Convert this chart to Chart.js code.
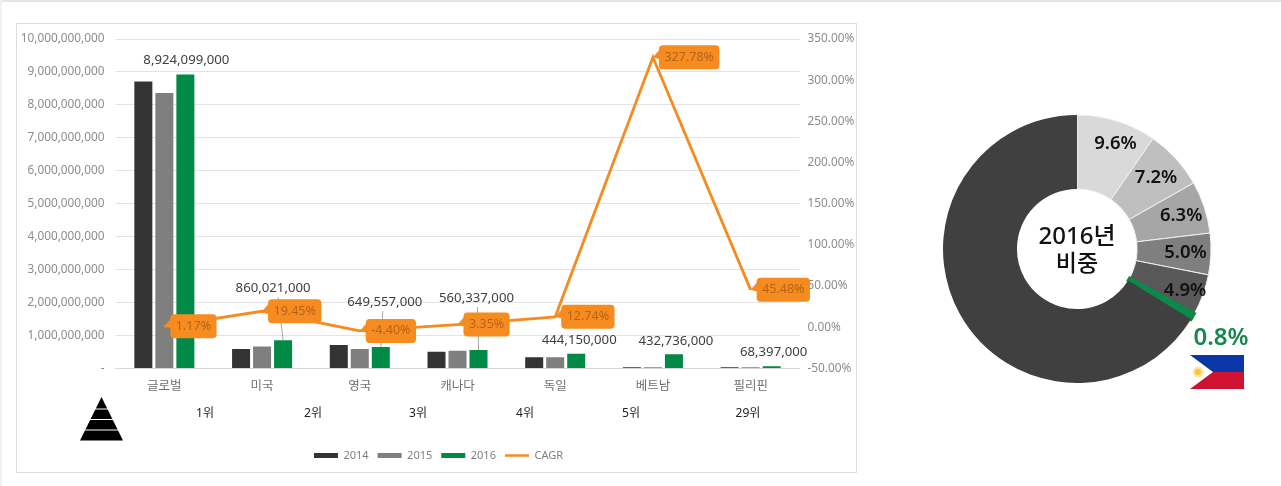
<!DOCTYPE html>
<html lang="ko">
<head>
<meta charset="utf-8">
<title>2016 CAGR</title>
<script src="https://cdn.jsdelivr.net/npm/chart.js@4"></script>
<style>
  html, body { margin: 0; padding: 0; background: #fff; }
  body { width: 1281px; height: 486px; position: relative; overflow: hidden; font-family: "Noto Sans", "Noto Sans CJK KR", sans-serif; }
  #topLine { position: absolute; left: 0; top: 0; width: 1281px; height: 2px; background: #e4e4e4; }
  #leftLine { position: absolute; left: 0; top: 0; width: 2px; height: 486px; background: #f0f0f0; }
  #card { position: absolute; left: 16px; top: 23px; width: 839px; height: 448px; border: 1px solid #dcdcdc; }
  #barChart { position: absolute; left: 16px; top: 23px; }
  #pieChart { position: absolute; left: 904px; top: 101px; }
  #pyramid { position: absolute; left: 80px; top: 397px; }
  #flag { position: absolute; left: 1190px; top: 355px; }
  .rank { position: absolute; top: 404px; font-size: 12px; line-height: 18px; color: #222; transform: translateX(-50%); }
</style>
</head>
<body>
<div id="topLine"></div>
<div id="leftLine"></div>
<div id="card"></div>
<canvas id="barChart" width="845" height="449"></canvas>
<canvas id="pieChart" width="346" height="296"></canvas>

<svg id="pyramid" width="43" height="44" viewBox="0 0 43 44">
  <polygon points="21.5,0 43,43.5 0,43.5" fill="#000"/>
  <path d="M0 12H43M0 22.5H43M0 33H43" stroke="#fff" stroke-width="1.2"/>
</svg>
<svg id="flag" width="54" height="34" viewBox="0 0 54 34">
  <rect width="54" height="17" fill="#0a36a8"/>
  <rect y="17" width="54" height="17" fill="#cf1230"/>
  <polygon points="0,0 23,17 0,34" fill="#fff"/>
  <circle cx="8" cy="17" r="5.5" fill="#fbe9a8"/>
  <circle cx="8" cy="17" r="3.2" fill="#f8c93f"/>
</svg>

<span class="rank" style="left:205px">1위</span>
<span class="rank" style="left:313px">2위</span>
<span class="rank" style="left:418px">3위</span>
<span class="rank" style="left:525px">4위</span>
<span class="rank" style="left:631px">5위</span>
<span class="rank" style="left:748px">29위</span>

<script>
// chart data
const countries = ['글로벌', '미국', '영국', '캐나다', '독일', '베트남', '필리핀'];
const sales2014 = [8710000000, 590000000, 710000000, 510000000, 340000000, 40000000, 35000000];
const sales2015 = [8360000000, 670000000, 590000000, 540000000, 340000000, 40000000, 35000000];
const sales2016 = [8924099000, 860021000, 649557000, 560337000, 444150000, 432736000, 68397000];
const cagr = [1.17, 19.45, -4.40, 3.35, 12.74, 327.78, 45.48];

const shareLabels = ['미국', '영국', '캐나다', '독일', '베트남', '필리핀', '기타'];
const shareValues = [9.6, 7.2, 6.3, 5.0, 4.9, 0.8, 66.2];
const shareColors = ['#d9d9d9', '#bfbfbf', '#a6a6a6', '#7f7f7f', '#595959', '#0b8a4a', '#404040'];

const FONT = '"Noto Sans", "Noto Sans CJK KR", sans-serif';
const DARK = '#333333', GRAY = '#7f7f7f', GREEN = '#008a45', ORANGE = '#f68b1f';

// where the value label of each 2016 bar sits, relative to the bar top
const labelShift = [1, -10, 4, -2, 3, 2, 2];
const labelLift = [14, 52, 45, 52, 14, 13, 14];

// draws the value labels, leader lines and orange CAGR bubbles
const barLabels = {
  id: 'barLabels',
  afterDatasetsDraw(chart) {
    const ctx = chart.ctx;
    const bars = chart.getDatasetMeta(2).data;
    const points = chart.getDatasetMeta(3).data;
    ctx.save();
    ctx.textBaseline = 'middle';
    ctx.textAlign = 'center';

    bars.forEach((bar, i) => {
      const x = bar.x + labelShift[i], y = bar.y - labelLift[i];
      if (labelLift[i] > 20) {
        ctx.strokeStyle = '#a6a6a6';
        ctx.lineWidth = 1;
        ctx.beginPath();
        ctx.moveTo(x + (bar.x - x) * 0.5, y + 9);
        ctx.lineTo(bar.x, bar.y);
        ctx.stroke();
      }
      ctx.font = '13.2px ' + FONT;
      ctx.fillStyle = '#404040';
      ctx.fillText(sales2016[i].toLocaleString('en-US'), x, y);
    });

    points.forEach((pt, i) => {
      const text = cagr[i].toFixed(2) + '%';
      ctx.font = '12.5px ' + FONT;
      const w = ctx.measureText(text).width + 11, h = 24;
      const left = pt.x + 6, top = pt.y - h / 2;
      ctx.fillStyle = ORANGE;
      ctx.beginPath();
      ctx.moveTo(pt.x, pt.y);
      ctx.lineTo(left + 1, top + 4);
      ctx.lineTo(left + 1, top + 14);
      ctx.closePath();
      ctx.fill();
      ctx.beginPath();
      ctx.roundRect(left, top, w, h, 4);
      ctx.fill();
      ctx.fillStyle = '#b5641c';
      ctx.fillText(text, left + w / 2, pt.y);
    });
    ctx.restore();
  }
};

new Chart(document.getElementById('barChart'), {
  type: 'bar',
  plugins: [barLabels],
  data: {
    labels: countries,
    datasets: [
      { label: '2014', data: sales2014, backgroundColor: DARK, yAxisID: 'y', order: 2 },
      { label: '2015', data: sales2015, backgroundColor: GRAY, yAxisID: 'y', order: 2 },
      { label: '2016', data: sales2016, backgroundColor: GREEN, yAxisID: 'y', order: 2 },
      { label: 'CAGR', data: cagr, type: 'line', borderColor: ORANGE, backgroundColor: ORANGE, borderWidth: 2.8,
        pointRadius: 0, tension: 0, yAxisID: 'y1', order: 1 }
    ]
  },
  options: {
    responsive: false,
    animation: false,
    events: [],
    categoryPercentage: 0.645,
    barPercentage: 0.857,
    layout: { padding: { top: 16, bottom: 1, left: 0, right: 0 } },
    plugins: {
      tooltip: { enabled: false },
      legend: {
        position: 'bottom',
        labels: {
          usePointStyle: true,
          pointStyleWidth: 24,
          boxHeight: 6,
          padding: 9,
          color: GRAY,
          font: { family: FONT, size: 11 },
          generateLabels: chart => chart.data.datasets.map((ds, i) => ({
            text: ds.label,
            fontColor: GRAY,
            pointStyle: 'line',
            strokeStyle: ds.type === 'line' ? ds.borderColor : ds.backgroundColor,
            lineWidth: ds.type === 'line' ? 2.5 : 5,
            datasetIndex: i
          }))
        }
      }
    },
    scales: {
      x: {
        grid: { display: false },
        border: { color: '#d9d9d9' },
        ticks: { color: '#6f6f6f', font: { family: FONT, size: 12.5 }, padding: 2 },
        afterFit(scale) { scale.height = 72.5; }
      },
      y: {
        min: 0, max: 10000000000,
        ticks: {
          stepSize: 1000000000,
          color: '#8c8c8c',
          padding: 11,
          font: { family: FONT, size: 11.8 },
          callback: v => v === 0 ? '-' : v.toLocaleString('en-US')
        },
        grid: { color: '#e3e3e3', drawTicks: true, tickLength: 0 },
        border: { display: false },
        afterFit(scale) { scale.width = 99.5; scale.paddingTop = 0; scale.paddingBottom = 0; }
      },
      y1: {
        position: 'right',
        min: -50, max: 350,
        ticks: {
          stepSize: 50,
          color: '#8c8c8c',
          padding: 0,
          font: { family: FONT, size: 11.8 },
          callback: v => v.toFixed(2) + '%'
        },
        grid: { display: false },
        border: { display: false },
        afterFit(scale) { scale.width = 61.5; scale.paddingTop = 0; scale.paddingBottom = 0; }
      }
    }
  }
});

// how far out each share label sits, as a part of the outer radius, plus a small nudge in px
const labelRadius = [0.84, 0.8, 0.81, 0.81, 0.85, 1.27];
const labelNudge = [[5, 2], [0, 1], [1, 1], [0, 0], [1, 3], [-3, 3]];

// share labels on the doughnut, the philippines one sits outside in green
const pieLabels = {
  id: 'pieLabels',
  afterDraw(chart) {
    const ctx = chart.ctx;
    const arcs = chart.getDatasetMeta(0).data;
    ctx.save();
    ctx.textAlign = 'center';
    ctx.textBaseline = 'middle';
    arcs.forEach((arc, i) => {
      if (shareLabels[i] === '기타') return;
      const mid = (arc.startAngle + arc.endAngle) / 2;
      const isPh = shareLabels[i] === '필리핀';
      const r = arc.outerRadius * labelRadius[i];
      ctx.font = isPh ? '600 24px ' + FONT : '600 18.5px ' + FONT;
      ctx.fillStyle = isPh ? '#16884f' : '#111';
      ctx.fillText(shareValues[i].toFixed(1) + '%', arc.x + Math.cos(mid) * r + labelNudge[i][0], arc.y + Math.sin(mid) * r + labelNudge[i][1]);
    });
    const c = arcs[0];
    ctx.fillStyle = '#111';
    ctx.font = '500 24px ' + FONT;
    ctx.fillText('2016년', c.x, c.y - 12);
    ctx.font = '500 23px "Noto Sans CJK KR", sans-serif';
    ctx.fillText('비중', c.x, c.y + 13);
    ctx.restore();
  }
};

new Chart(document.getElementById('pieChart'), {
  type: 'doughnut',
  plugins: [pieLabels],
  data: {
    labels: shareLabels,
    datasets: [{
      data: shareValues,
      backgroundColor: shareColors,
      borderColor: ['#f2f2f2', '#f2f2f2', '#f2f2f2', '#f2f2f2', '#f2f2f2', '#0b8a4a', '#404040'],
      borderWidth: [1, 1, 1, 1, 1, 3, 0],
      borderJoinStyle: 'miter'
    }]
  },
  options: {
    responsive: false,
    animation: false,
    events: [],
    radius: 134,
    cutout: '44.8%',
    plugins: { legend: { display: false }, tooltip: { enabled: false } }
  }
});
</script>
</body>
</html>
